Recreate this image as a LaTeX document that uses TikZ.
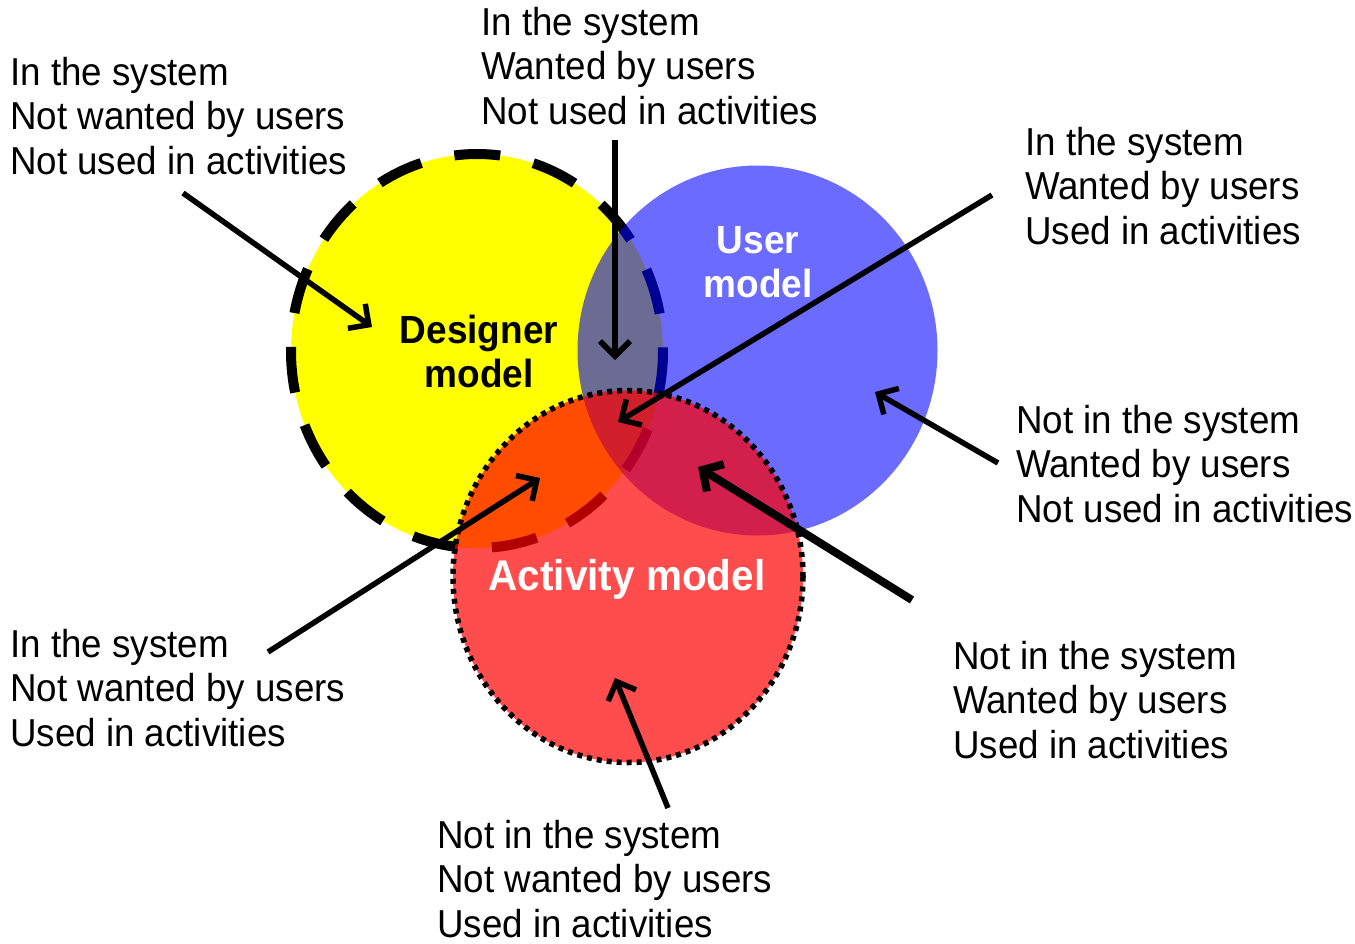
\documentclass[tikz,border=0pt]{standalone}
\usepackage{graphicx}
\usepackage{fontspec}
\setmainfont{Liberation Sans}
\usetikzlibrary{arrows.meta}
\definecolor{ylw}{RGB}{255,255,0}
\definecolor{blu}{RGB}{0,0,255}
\definecolor{rd}{RGB}{255,0,0}
\newcommand{\lbltext}[1]{\scalebox{1}[1.06]{\begin{tabular}[t]{@{}l@{}}#1\end{tabular}}}
\newcommand{\mdltext}[1]{\scalebox{1}[1.06]{\begin{tabular}[t]{@{}c@{}}#1\end{tabular}}}
\begin{document}
\begin{tikzpicture}[x=1pt,y=-1pt,
  lbl/.style={anchor=base west, inner sep=0pt, font=\fontsize{36.75}{42}\selectfont},
  mdl/.style={anchor=base, inner sep=0pt, font=\fontsize{37}{42}\selectfont\bfseries},
  dashline/.style={draw=black, line width=10pt, dash pattern=on 46pt off 34pt},
  dotline/.style={draw=black, line width=5.5pt, dash pattern=on 5pt off 5pt},
  arr/.style={line width=5.5pt, -{Straight Barb[length=15pt,width=30pt]}},
  thickarr/.style={line width=8pt, -{Straight Barb[length=15pt,width=32pt]}}]
\useasboundingbox (0,0) rectangle (1355,943);
\fill[white] (0,0) rectangle (1355,943);

% circles
\fill[ylw] (477,351) ellipse [x radius=186, y radius=197];
\draw[dashline] (477,351) ellipse [x radius=186, y radius=197];
\fill[blu, opacity=0.58] (757.5,350.5) ellipse [x radius=180, y radius=185];
\fill[rd, opacity=0.7] (628,576.5) ellipse [x radius=175, y radius=186];
\draw[dotline] (628,576.5) ellipse [x radius=175, y radius=186];

% model labels
\node[mdl] (dm) at (479,343) {\mdltext{Designer\\model}};
\node[mdl, text=white] (um) at (758,253) {\mdltext{User\\model}};
\node[mdl, text=white, font=\fontsize{40.5}{42}\selectfont\bfseries] (am) at (627,590) {\mdltext{Activity model}};

% region labels
\node[lbl] (l1) at (10,85) {\lbltext{In the system\\Not wanted by users\\Not used in activities}};
\node[lbl] (l2) at (481,35) {\lbltext{In the system\\Wanted by users\\Not used in activities}};
\node[lbl] (l3) at (1025,155) {\lbltext{In the system\\Wanted by users\\Used in activities}};
\node[lbl] (l4) at (1016,433) {\lbltext{Not in the system\\Wanted by users\\Not used in activities}};
\node[lbl] (l5) at (953,669) {\lbltext{Not in the system\\Wanted by users\\Used in activities}};
\node[lbl] (l6) at (10,657) {\lbltext{In the system\\Not wanted by users\\Used in activities}};
\node[lbl] (l7) at (437,848) {\lbltext{Not in the system\\Not wanted by users\\Used in activities}};

% arrow end points
\coordinate (t1) at (183,193); \coordinate (h1) at (372,327);
\coordinate (t2) at (615,140); \coordinate (h2) at (615,360);
\coordinate (t3) at (992,195); \coordinate (h3) at (618,422);
\coordinate (t4) at (998,463); \coordinate (h4) at (875,392);
\coordinate (t5) at (912,600); \coordinate (h5) at (698,467);
\coordinate (t6) at (268,652); \coordinate (h6) at (540,478);
\coordinate (t7) at (668,808); \coordinate (h7) at (615,678);

\draw[arr] (t1) -- (h1);
\draw[arr] (t2) -- (h2);
\draw[arr] (t3) -- (h3);
\draw[arr] (t4) -- (h4);
\draw[thickarr] (t5) -- (h5);
\draw[arr] (t6) -- (h6);
\draw[arr] (t7) -- (h7);
\end{tikzpicture}
\end{document}
